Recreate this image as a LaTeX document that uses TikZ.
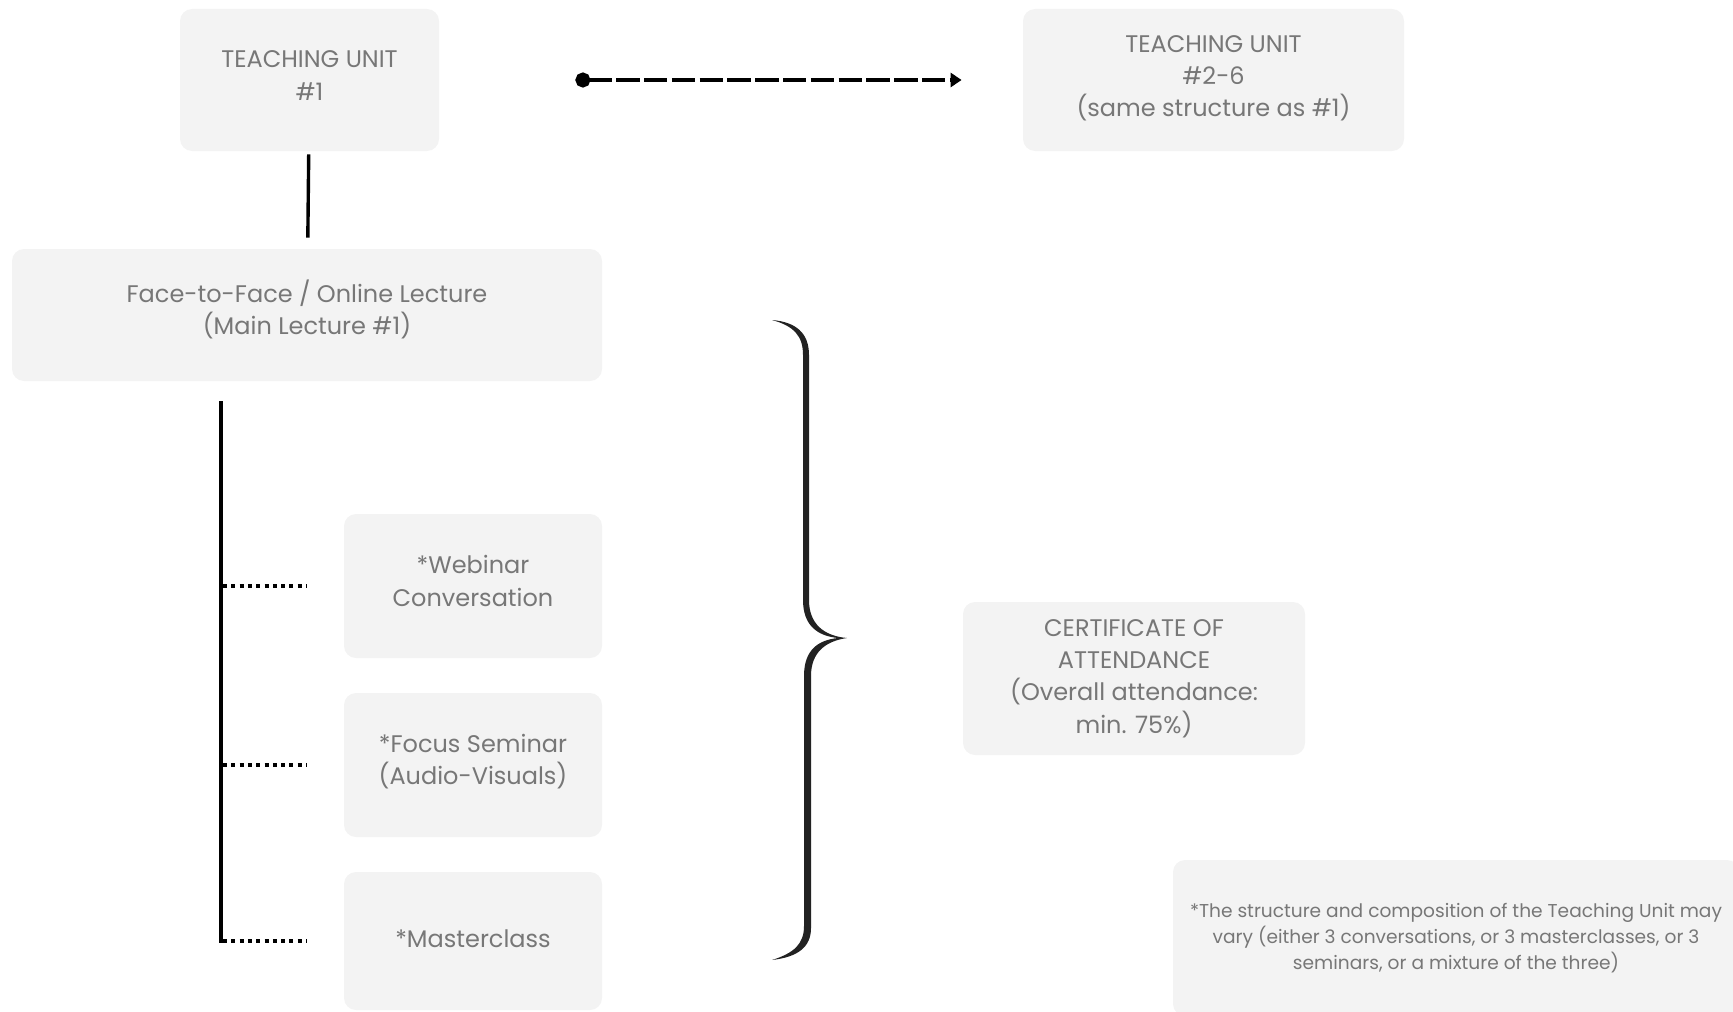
\documentclass[tikz,border=0pt]{standalone}
\usepackage{fontspec}
\setmainfont{Poppins}
\usetikzlibrary{arrows.meta}
\definecolor{boxgray}{HTML}{F3F3F3}
\definecolor{textgray}{HTML}{777777}
\definecolor{inkblack}{HTML}{222222}
\tikzset{
    unitbox/.style={fill=boxgray,rounded corners=6pt,text=textgray,align=center,
        inner sep=0pt,font=\fontsize{12}{16.2}\selectfont},
    notebox/.style={unitbox,font=\fontsize{9.3}{13}\selectfont},
    textlift/.style={text depth=#1},
    dotbranch/.style={line width=2pt,dash pattern=on 2pt off 2.15pt},
}
\begin{document}
\begin{tikzpicture}[x=0.5pt,y=-0.5pt]
    \useasboundingbox (0,0) rectangle (1733,1011);
    % Teaching units
    \node[unitbox,textlift=4.4pt,minimum width=129.5pt,minimum height=71pt] (unitone) at (309.5,80)
        {TEACHING UNIT\\\#1};
    \node[unitbox,textlift=4pt,minimum width=190.5pt,minimum height=71pt] (unitrest) at (1213.5,80)
        {TEACHING UNIT\\\#2-6\\(same structure as \#1)};
    % Main lecture
    \node[unitbox,textlift=8pt,minimum width=295pt,minimum height=66pt] (lecture) at (307,315)
        {Face-to-Face / Online Lecture\\(Main Lecture \#1)};
    % Activities
    \node[unitbox,textlift=5pt,minimum width=129pt,minimum height=72pt] (webinar) at (473,586)
        {*Webinar\\Conversation};
    \node[unitbox,textlift=5.8pt,minimum width=129pt,minimum height=72pt] (focus) at (473,765)
        {*Focus Seminar\\(Audio-Visuals)};
    \node[unitbox,textlift=2.2pt,minimum width=129pt,minimum height=69pt] (master) at (473,941)
        {*Masterclass};
    % Certificate and note
    \node[unitbox,minimum width=171pt,minimum height=76.5pt] (certificate) at (1134,678.5)
        {CERTIFICATE OF\\ATTENDANCE\\(Overall attendance:\\min. 75\%)};
    \node[notebox,minimum width=283pt,minimum height=78pt] (note) at (1456,938)
        {*The structure and composition of the Teaching Unit may\\
         vary (either 3 conversations, or 3 masterclasses, or 3\\
         seminars, or a mixture of the three)};
    % Connectors
    \draw[line width=1.7pt,shorten <=1.5pt,shorten >=5.5pt] (unitone) -- (lecture);
    \draw[line width=2pt,dash pattern=on 11.7pt off 2.2pt,
        {Circle[length=7.5pt]}-{Triangle[length=5.5pt,width=7pt]},
        shorten <=68pt,shorten >=30.5pt] (unitone.east) -- (unitrest.west);
    % Activity branches
    \coordinate (trunktop) at (221,401);
    \coordinate (trunkbot) at (221,943);
    \draw[line width=2pt] (trunktop) -- (trunkbot);
    \foreach \act in {webinar,focus,master}
        \draw[dotbranch] ([xshift=1pt]trunktop |- \act.west) -- ([xshift=-18.5pt]\act.west);
    % Brace
    \fill[inkblack] (772,320) .. controls (796,322) and (809,333) .. (809,355)
        -- (809,600) .. controls (809,624) and (824,636) .. (847,638)
        .. controls (826,641) and (811,652) .. (811,676)
        -- (811,928) .. controls (811,947) and (798,957) .. (772,960)
        .. controls (794,953) and (804,944) .. (804,926)
        -- (804,676) .. controls (804,650) and (818,640) .. (838,638)
        .. controls (818,636) and (803,626) .. (803,600)
        -- (803,355) .. controls (803,336) and (794,326) .. (772,320) -- cycle;
\end{tikzpicture}
\end{document}
